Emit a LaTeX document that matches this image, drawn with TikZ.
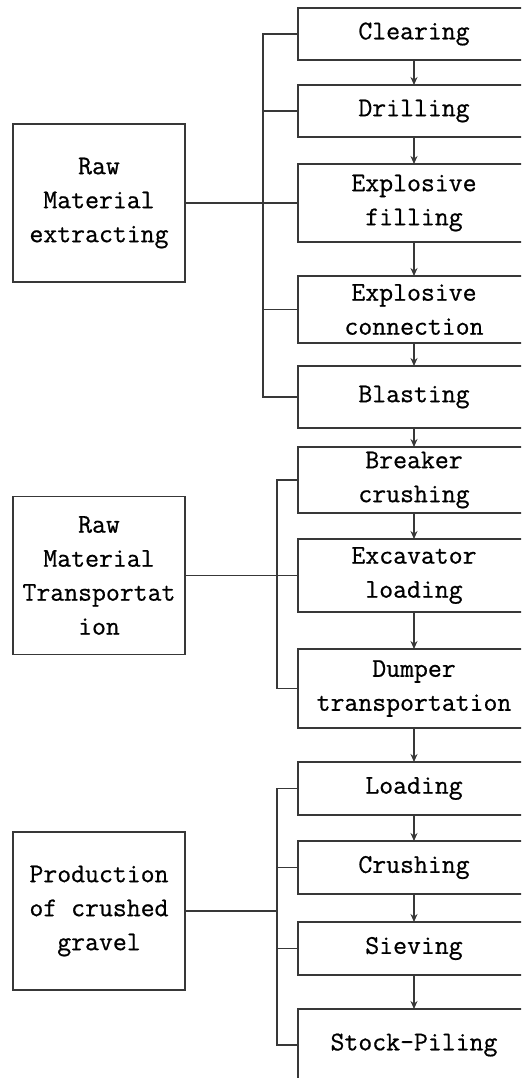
\documentclass[tikz,border=0pt]{standalone}
\usepackage{fontspec}
\usepackage{tikz}
\usetikzlibrary{positioning,arrows.meta,bayesnet}

\newfontfamily\stepfont{Latin Modern Mono}[FakeBold=0.7]
\definecolor{linegray}{gray}{0.22}

\tikzset{
	stepbox/.style={draw=linegray, line width=0.6pt, minimum width=116pt, inner sep=0pt, outer sep=0pt, align=center,
		font=\stepfont\fontsize{13.5pt}{17pt}\selectfont},
	phasebox/.style={stepbox, minimum width=86pt, minimum height=79pt},
	link/.style={draw=linegray, line width=0.6pt},
	flow/.style={link, -{Stealth[length=4pt, width=3.5pt]}}
}

\begin{document}
\begin{tikzpicture}
	\useasboundingbox (0,0) rectangle (260.5pt,-539pt);
	\clip (0,0) rectangle (260.5pt,-539pt);

	%% STEPS
	\node[stepbox, minimum height=26pt, anchor=north west] (clearing) at (149pt,-4pt) {Clearing};
	\node[stepbox, minimum height=26pt, below=12.5pt of clearing] (drilling) {Drilling};
	\node[stepbox, minimum height=39pt, below=13.5pt of drilling] (expl_fill) {Explosive\\filling};
	\node[stepbox, minimum height=33.5pt, below=17pt of expl_fill] (expl_conn) {Explosive\\connection};
	\node[stepbox, minimum height=31pt, below=11.5pt of expl_conn] (blasting) {Blasting};
	\node[stepbox, minimum height=33pt, below=9.5pt of blasting] (breaker) {Breaker\\crushing};
	\node[stepbox, minimum height=36.5pt, below=13pt of breaker] (excavator) {Excavator\\loading};
	\node[stepbox, minimum height=39.5pt, below=18.5pt of excavator] (dumper) {Dumper\\transportation};
	\node[stepbox, minimum height=26.5pt, below=17pt of dumper] (loading) {Loading};
	\node[stepbox, minimum height=26.5pt, below=13pt of loading] (crushing) {Crushing};
	\node[stepbox, minimum height=26.5pt, below=14pt of crushing] (sieving) {Sieving};
	\node[stepbox, minimum height=36pt, below=17pt of sieving] (stockpile) {Stock-Piling};

	\edge[flow]{clearing}{drilling};
	\edge[flow]{drilling}{expl_fill};
	\edge[flow]{expl_fill}{expl_conn};
	\edge[flow]{expl_conn}{blasting};
	\edge[flow]{blasting}{breaker};
	\edge[flow]{breaker}{excavator};
	\edge[flow]{excavator}{dumper};
	\edge[flow]{dumper}{loading};
	\edge[flow]{loading}{crushing};
	\edge[flow]{crushing}{sieving};
	\edge[flow]{sieving}{stockpile};

	%% RAW MATERIAL EXTRACTING
	\node[phasebox, left=56.5pt of expl_fill] (raw_extract) {Raw\\Material\\extracting};

	\coordinate[left=17.5pt of clearing.west] (bus_extract_top);
	\coordinate[left=17.5pt of blasting.west] (bus_extract_bot);

	\draw[link] (clearing.west) -- (bus_extract_top) -- (bus_extract_bot) -- (blasting.west);
	\draw[link] (drilling.west) -- (drilling.west -| bus_extract_top);
	\draw[link] (expl_conn.west) -- (expl_conn.west -| bus_extract_top);
	\draw[link] (raw_extract.east) -- (expl_fill.west);

	%% RAW MATERIAL TRANSPORTATION
	\node[phasebox, left=56.5pt of excavator] (raw_transport) {Raw\\Material\\Transportat\\ion};

	\coordinate[left=10.5pt of breaker.west] (bus_transport_top);
	\coordinate[left=10.5pt of dumper.west] (bus_transport_bot);

	\draw[link] (breaker.west) -- (bus_transport_top) -- (bus_transport_bot) -- (dumper.west);
	\draw[link] (raw_transport.east) -- (excavator.west);

	%% PRODUCTION OF CRUSHED GRAVEL
	\node[phasebox, anchor=north west] (gravel) at (6.5pt,-416pt) {Production\\of crushed\\gravel};

	\coordinate[left=10.5pt of loading.west] (bus_gravel_top);
	\coordinate[left=10.5pt of stockpile.west] (bus_gravel_bot);

	\draw[link] (loading.west) -- (bus_gravel_top) -- (bus_gravel_bot) -- (stockpile.west);
	\draw[link] (crushing.west) -- (crushing.west -| bus_gravel_top);
	\draw[link] (sieving.west) -- (sieving.west -| bus_gravel_top);
	\draw[link] (gravel.east) -- (gravel.east -| bus_gravel_top);

\end{tikzpicture}
\end{document}
